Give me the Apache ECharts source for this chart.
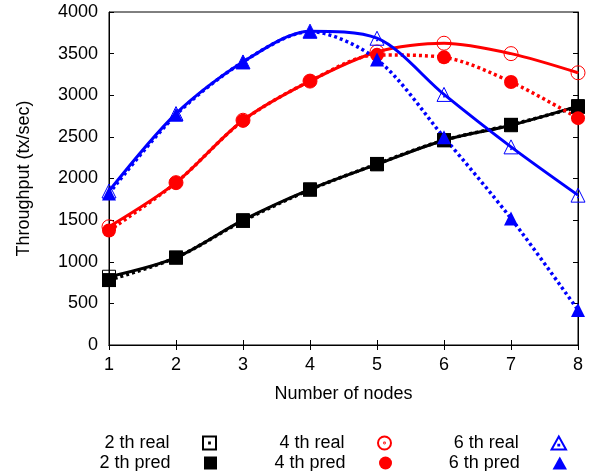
<!DOCTYPE html>
<html>
<head>
<meta charset="utf-8">
<script src="https://cdn.jsdelivr.net/npm/echarts@6/dist/echarts.min.js"></script>
<style>
  html, body { margin: 0; padding: 0; background: #fff; }
  #chart { width: 596px; height: 471px; }
</style>
</head>
<body>
<div id="chart"></div>
<script type="text/javascript">
// number of nodes
var nodes = [1, 2, 3, 4, 5, 6, 7, 8];
var yTicks = [0, 500, 1000, 1500, 2000, 2500, 3000, 3500, 4000];

// throughput, tx/sec
var real2 = [820, 1050, 1500, 1870, 2170, 2460, 2640, 2870];
var pred2 = [780, 1050, 1490, 1865, 2175, 2460, 2645, 2860];
var real4 = [1420, 1950, 2700, 3170, 3520, 3625, 3500, 3270];
var pred4 = [1375, 1950, 2695, 3170, 3485, 3455, 3160, 2725];
var real6 = [1850, 2780, 3400, 3770, 3685, 3010, 2380, 1800];
var pred6 = [1820, 2765, 3400, 3765, 3430, 2495, 1520, 420];

var FONT = '"Liberation Sans", Arial, sans-serif';

var sqOpen = 'path://M0,0H10V10H0Z M4.7,4.7H5.3V5.3H4.7Z';
var sqFill = 'path://M0,0H10V10H0Z';
var circOpen = 'path://M10,5A5,5,0,1,1,0,5A5,5,0,1,1,10,5Z M5.3,5A0.3,0.3,0,1,1,4.7,5A0.3,0.3,0,1,1,5.3,5Z';
var circFill = 'path://M10,5A5,5,0,1,1,0,5A5,5,0,1,1,10,5Z';
var triOpen = 'path://M5,0L10,9H0Z M4.7,5.7H5.3V6.3H4.7Z';
var triFill = 'path://M5,0L10,9H0Z';

function pairs(vals) {
    return vals.map(function (v, i) { return [nodes[i], v]; });
}

function realSeries(name, vals, color, sym, size) {
    return {
        name: name, type: 'line', smooth: 0.3, data: pairs(vals),
        symbol: sym, symbolSize: size,
        lineStyle: { color: color, width: 3, type: 'solid' },
        itemStyle: { color: 'transparent', borderColor: color, borderWidth: 1 }
    };
}
function predSeries(name, vals, color, sym, size) {
    return {
        name: name, type: 'line', smooth: 0.3, data: pairs(vals),
        symbol: sym, symbolSize: size,
        lineStyle: { color: color, width: 3.5, type: [3, 3] },
        itemStyle: { color: color, borderWidth: 0 }
    };
}

// one legend per entry: text on the left, symbol on the right
function legendItem(name, icon, right, top) {
    return {
        orient: 'horizontal', align: 'right', right: right, top: top,
        padding: 0, itemWidth: 70, itemHeight: 13,
        selectedMode: false,
        textStyle: { fontFamily: FONT, fontSize: 18, color: '#000' },
        data: [{ name: name, icon: icon }]
    };
}

var chart = echarts.init(document.getElementById('chart'));
chart.setOption({
    animation: false,
    backgroundColor: '#fff',
    grid: { left: 109, right: 18, top: 12, bottom: 126, show: true, borderColor: '#000', borderWidth: 1 },
    legend: [
        legendItem('2 th real', sqOpen, 379, 434),
        legendItem('2 th pred', sqFill, 379, 454),
        legendItem('4 th real', circOpen, 204, 434),
        legendItem('4 th pred', circFill, 204, 454),
        legendItem('6 th real', triOpen, 29, 434),
        legendItem('6 th pred', triFill, 29, 454)
    ],
    xAxis: [{
        type: 'value', min: 1, max: 8, interval: 1,
        name: 'Number of nodes', nameLocation: 'middle', nameGap: 40,
        nameTextStyle: { fontFamily: FONT, fontSize: 18, color: '#000' },
        axisLine: { lineStyle: { color: '#000', width: 1 } },
        axisTick: { inside: true, length: 5, lineStyle: { color: '#000' } },
        axisLabel: { fontFamily: FONT, fontSize: 18, color: '#000', margin: 11 },
        splitLine: { show: false }
    }, {
        type: 'value', min: 1, max: 8, interval: 1, position: 'top',
        axisLine: { lineStyle: { color: '#000' } },
        axisTick: { inside: true, length: 5, lineStyle: { color: '#000' } },
        axisLabel: { show: false }, splitLine: { show: false }
    }],
    yAxis: [{
        type: 'value', min: yTicks[0], max: yTicks[yTicks.length - 1], interval: 500,
        name: 'Throughput (tx/sec)', nameLocation: 'middle', nameGap: 76,
        nameTextStyle: { fontFamily: FONT, fontSize: 18, color: '#000' },
        axisLine: { show: true, lineStyle: { color: '#000', width: 1 } },
        axisTick: { show: true, inside: true, length: 5, lineStyle: { color: '#000' } },
        axisLabel: {
            fontFamily: FONT, fontSize: 18, color: '#000', margin: 11,
            formatter: function (v) { return String(v); }
        },
        splitLine: { show: false }
    }, {
        type: 'value', min: 0, max: 4000, interval: 500, position: 'right',
        axisLine: { show: true, lineStyle: { color: '#000' } },
        axisTick: { show: true, inside: true, length: 5, lineStyle: { color: '#000' } },
        axisLabel: { show: false }, splitLine: { show: false }
    }],
    series: [
        realSeries('2 th real', real2, '#000', sqOpen, 13),
        predSeries('2 th pred', pred2, '#000', sqFill, 14),
        realSeries('4 th real', real4, '#ff0000', circOpen, 14),
        predSeries('4 th pred', pred4, '#ff0000', circFill, 14),
        realSeries('6 th real', real6, '#0000ff', triOpen, 14),
        predSeries('6 th pred', pred6, '#0000ff', triFill, 14)
    ]
});
</script>
</body>
</html>
